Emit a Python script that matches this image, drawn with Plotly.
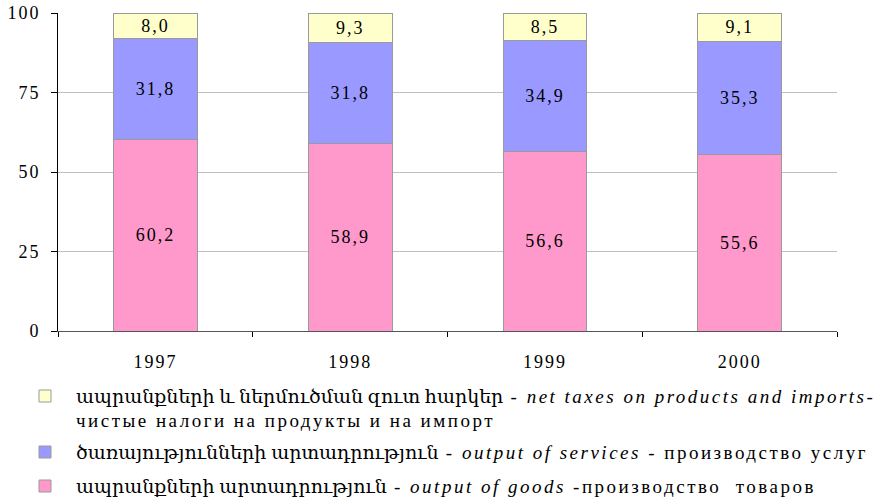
import plotly.graph_objects as go

years = ["1997", "1998", "1999", "2000"]
goods = [60.2, 58.9, 56.6, 55.6]
services = [31.8, 31.8, 34.9, 35.3]
taxes = [8.0, 9.3, 8.5, 9.1]
y_ticks = [0, 25, 50, 75, 100]

color_goods = "#FF99CC"
color_services = "#9999FF"
color_taxes = "#FFFFCC"

# legend rows: colour, then lines made of (text, kind) segments
legend_rows = [
    (color_taxes, [
        [("ապրանքների և ներմուծման զուտ հարկեր", "hy"), (" - ", "ru"),
         ("net taxes on products and imports", "en"), ("-", "ru")],
        [("чистые налоги на продукты и на импорт", "ru")],
    ]),
    (color_services, [
        [("ծառայությունների արտադրություն", "hy"), (" - ", "ru"),
         ("output of services", "en"), (" - производство услуг", "ru")],
    ]),
    (color_goods, [
        [("ապրանքների արտադրություն", "hy"), (" - ", "ru"),
         ("output of goods", "en"), (" -производство  товаров", "ru")],
    ]),
]

serif = "'Liberation Serif', 'Times New Roman', 'DejaVu Serif', serif"


def seg_html(text, kind):
    if kind == "hy":
        return text
    inner = "<i>%s</i>" % text if kind == "en" else text
    return "<span style='letter-spacing:2.5px'>%s</span>" % inner


fig = go.Figure()
for vals, name, color in [
    (goods, "goods", color_goods),
    (services, "services", color_services),
    (taxes, "taxes", color_taxes),
]:
    fig.add_trace(go.Bar(
        x=years, y=vals, name=name,
        marker=dict(color=color, line=dict(color="#9a9a9a", width=1)),
        texttemplate="%{y:.1f}", textposition="inside", insidetextanchor="middle",
        textfont=dict(family=serif, size=18, color="black"),
        textangle=0, showlegend=False,
    ))

# plot area in page px: x 58..837, y 13..331
def px(X):
    return (X - 58) / 779.0

def py(Y):
    return (331 - Y) / 318.0

shapes = []
annotations = []
row_y = [[396, 420], [452], [486]]
for (color, lines), ys in zip(legend_rows, row_y):
    cy = ys[0]
    shapes.append(dict(type="rect", xref="paper", yref="paper",
                       x0=px(39), x1=px(51), y0=py(cy + 6), y1=py(cy - 6),
                       fillcolor=color, line=dict(color="#9a9a9a", width=1)))
    for segs, ty in zip(lines, ys):
        txt = "".join(seg_html(t, k) for t, k in segs)
        annotations.append(dict(xref="paper", yref="paper", x=px(74), y=py(ty),
                                xanchor="left", yanchor="middle", text=txt, showarrow=False,
                                font=dict(family=serif, size=19, color="black")))

fig.update_layout(
    width=883, height=502,
    barmode="stack", bargap=0.57,
    separators=", ",
    plot_bgcolor="white", paper_bgcolor="white",
    margin=dict(l=58, r=46, t=13, b=171, autoexpand=False),
    font=dict(family=serif, size=18, color="black"),
    uniformtext=dict(mode="show", minsize=18),
    showlegend=False,
    shapes=shapes,
    annotations=annotations,
)
fig.update_xaxes(
    showline=True, linecolor="#555555", linewidth=1,
    ticks="outside", tickson="boundaries", ticklen=5, tickcolor="black",
    showgrid=False, tickfont=dict(family=serif, size=18),
    ticklabelstandoff=14,
)
fig.update_yaxes(
    range=[0, 100], tickvals=y_ticks,
    showline=True, linecolor="black", linewidth=1,
    ticks="outside", ticklen=6, tickcolor="black",
    showgrid=True, gridcolor="#c0c0c0", gridwidth=1,
    tickfont=dict(family=serif, size=18),
    zeroline=False, ticklabelstandoff=7,
)

post = (
    "document.body.style.margin='0';"
    "var s=document.createElement('style');"
    "s.textContent='.xtick text, .ytick text, text.bartext {letter-spacing:2px;}';"
    "document.head.appendChild(s);"
)
fig.write_html("out.html", post_script=post, config={"displayModeBar": False})
